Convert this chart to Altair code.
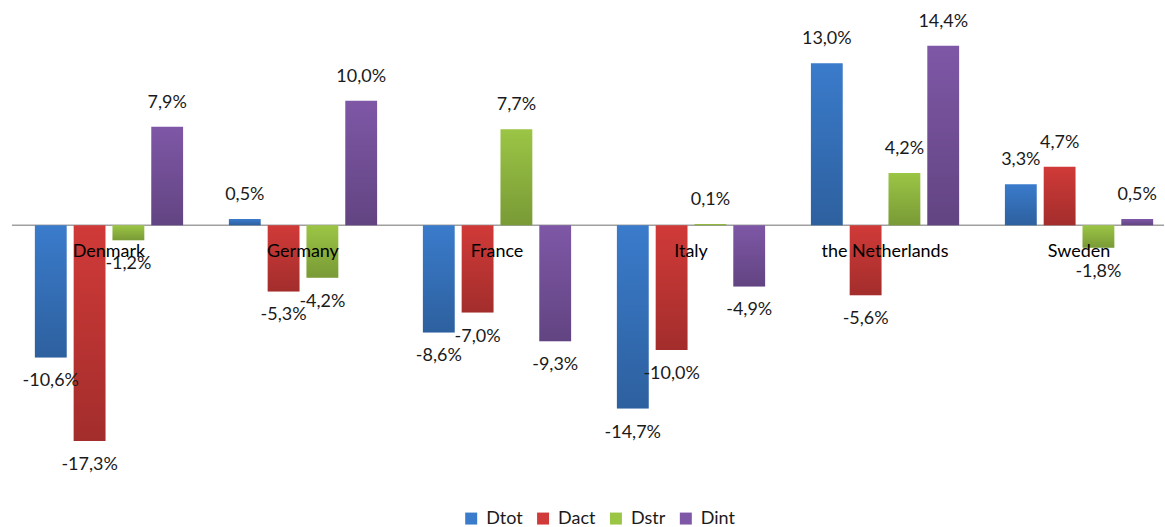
import altair as alt
import pandas as pd

# Change decomposition by country (percent)
countries = ["Denmark", "Germany", "France", "Italy", "the Netherlands", "Sweden"]
series = ["Dtot", "Dact", "Dstr", "Dint"]
dtot = [-10.6, 0.5, -8.6, -14.7, 13.0, 3.3]
dact = [-17.3, -5.3, -7.0, -10.0, -5.6, 4.7]
dstr = [-1.2, -4.2, 7.7, 0.1, 4.2, -1.8]
dint = [7.9, 10.0, -9.3, -4.9, 14.4, 0.5]
colors = ["#3a7bcb", "#d03a38", "#9bc545", "#7e57a6"]

# each country gets five slots: four bars and one gap
SLOTS = 5
rows = []
for si, (s, vals) in enumerate(zip(series, [dtot, dact, dstr, dint])):
    for ci, (c, v) in enumerate(zip(countries, vals)):
        rows.append({"country": c, "series": s, "value": v,
                     "slot": ci * SLOTS + si, "zero": 0})
df = pd.DataFrame(rows)
groups = pd.DataFrame({"country": countries,
                       "slot": [ci * SLOTS + 1.5 for ci in range(len(countries))],
                       "value": [0] * len(countries)})

FONT = "Lato"
W, H = 1154, 462
HALF = 0.41  # half bar width in slot units

x_scale = alt.Scale(domain=[-1.0, 28.69], nice=False, zero=False)
y_scale = alt.Scale(domain=[-20, 17], nice=False, zero=True)
y_enc = alt.Y("value:Q", axis=None, scale=y_scale)

zero_line = alt.Chart(pd.DataFrame({"value": [0]})).mark_rule(
    color="#a0a0a0", strokeWidth=1.5
).encode(y=y_enc)

bar_base = alt.Chart(df).transform_calculate(
    x0=f"datum.slot - {HALF}", x1=f"datum.slot + {HALF}"
)

bars = bar_base.mark_bar().encode(
    x=alt.X("x0:Q", axis=None, scale=x_scale), x2="x1:Q",
    y=y_enc, y2="zero:Q",
    color=alt.Color(
        "series:N", sort=series,
        scale=alt.Scale(domain=series, range=colors),
        legend=alt.Legend(
            title=None, orient="none", legendX=451, legendY=497,
            direction="horizontal", symbolType="square", symbolSize=144,
            symbolStrokeWidth=0, labelFontSize=18, labelFont=FONT,
            labelColor="#1a1a1a", columnPadding=11, labelOffset=6,
        ),
    ),
)

# darkening overlay gives each bar a top-to-bottom shade
shade = bar_base.mark_bar(
    color=alt.Gradient(
        gradient="linear", x1=0, x2=0, y1=0, y2=1,
        stops=[alt.GradientStop(color="rgba(0,0,0,0)", offset=0),
               alt.GradientStop(color="rgba(0,0,0,0.22)", offset=1)],
    )
).encode(x=alt.X("x0:Q", axis=None, scale=x_scale), x2="x1:Q",
         y=y_enc, y2="zero:Q")

labelled = alt.Chart(df).transform_calculate(
    label="replace(replace(format(datum.value, '.1f'), '.', ','), '\u2212', '-') + '%'"
)
x_mid = alt.X("slot:Q", axis=None, scale=x_scale)
pos_labels = labelled.transform_filter("datum.value >= 0").mark_text(
    dy=-24, baseline="middle", fontSize=18, font=FONT, color="#1a1a1a"
).encode(x=x_mid, y=y_enc, text="label:N")
neg_labels = labelled.transform_filter("datum.value < 0").mark_text(
    dy=24, baseline="middle", fontSize=18, font=FONT, color="#1a1a1a"
).encode(x=x_mid, y=y_enc, text="label:N")

country_labels = alt.Chart(groups).mark_text(
    dy=27, baseline="middle", fontSize=18, font=FONT, color="#000000"
).encode(x=x_mid, y=y_enc, text="country:N")

chart = alt.layer(
    zero_line, bars, shade, pos_labels, neg_labels, country_labels
).properties(
    width=W, height=H,
    padding={"left": 11, "top": 12, "right": 0, "bottom": 0},
    background="white",
).configure_view(stroke=None)

chart.save("out.html", embed_options={"renderer": "svg", "actions": False})
